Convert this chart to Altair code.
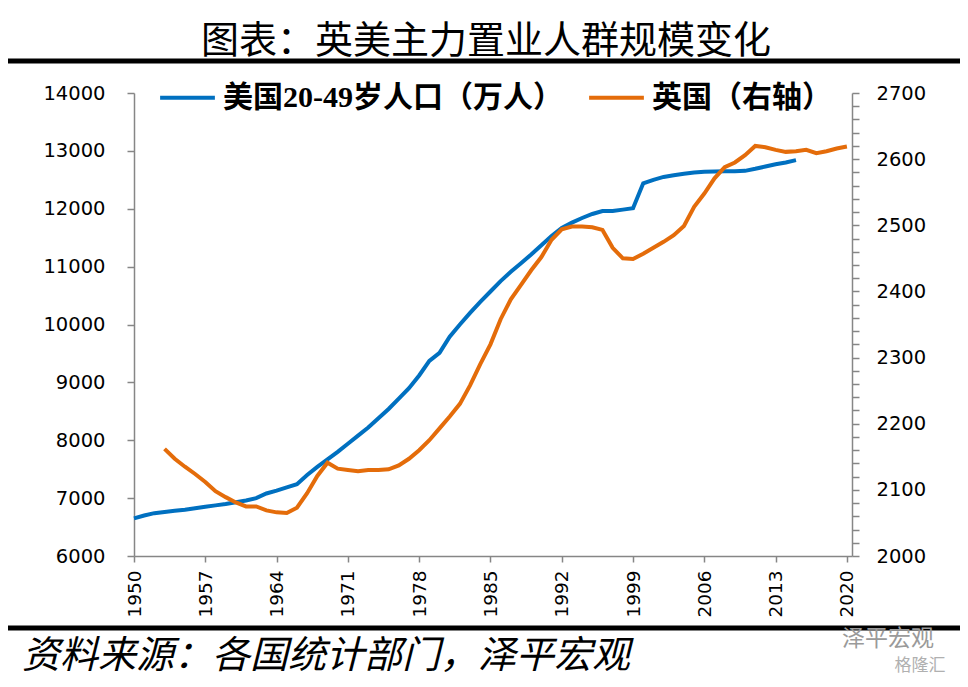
import altair as alt
import pandas as pd

# ---------------- data ----------------
us_years = list(range(1950, 2016))
us_pop = [6650, 6700, 6740, 6760, 6780, 6800, 6825, 6850, 6875, 6900,
          6930, 6960, 7000, 7080, 7130, 7185, 7240, 7400, 7540, 7670,
          7800, 7940, 8080, 8220, 8380, 8540, 8720, 8900, 9120, 9370,
          9510, 9790, 10000, 10200, 10390, 10570, 10750, 10910, 11060, 11210,
          11370, 11530, 11670, 11760, 11840, 11910, 11960, 11960, 11985, 12010,
          12440, 12500, 12550, 12580, 12605, 12625, 12640, 12645, 12650, 12650,
          12655, 12690, 12730, 12770, 12800, 12840]

uk_years = list(range(1953, 2021))
uk_pop = [2162, 2147, 2135, 2124, 2112, 2098, 2089, 2081, 2075, 2075,
          2069, 2066, 2065, 2073, 2095, 2121, 2141, 2132, 2130, 2128,
          2130, 2130, 2131, 2137, 2147, 2160, 2175, 2193, 2211, 2230,
          2258, 2290, 2320, 2358, 2388, 2410, 2432, 2452, 2478, 2494,
          2498, 2498, 2497, 2493, 2466, 2450, 2449, 2457, 2466, 2475,
          2485, 2499, 2528, 2548, 2571, 2588, 2595, 2606, 2620, 2618,
          2614, 2611, 2612, 2614, 2609, 2612, 2616, 2619]

series_names = ["美国20-49岁人口（万人）", "英国（右轴）"]
series_colors = ["#0070C0", "#E46C0A"]
x_ticks = [1950, 1957, 1964, 1971, 1978, 1985, 1992, 1999, 2006, 2013, 2020]
left_ticks = list(range(6000, 14001, 1000))
right_ticks = list(range(2000, 2701, 20))

title_text = "图表：英美主力置业人群规模变化"
source_text = "资料来源：各国统计部门，泽平宏观"
mark_text_1 = "泽平宏观"
mark_text_2 = "格隆汇"

us_df = pd.DataFrame({"year": us_years, "value": us_pop, "series": series_names[0]})
uk_df = pd.DataFrame({"year": uk_years, "value": uk_pop, "series": series_names[1]})

# ---------------- encodings ----------------
W, H = 718, 463
CJK = "Noto Sans CJK SC"
AX_FONT = "DejaVu Sans"

x_enc = alt.X("year:Q",
              scale=alt.Scale(domain=[1950, 2020.5], nice=False, zero=False),
              axis=alt.Axis(values=x_ticks, format="d", labelAngle=270, tickSize=6,
                            labelPadding=8, title=None, labelFlush=False,
                            labelOverlap=False, labelFontSize=18.5))

legend = alt.Legend(orient="none", legendX=24, legendY=-25, direction="horizontal",
                    title=None, symbolType="stroke", symbolSize=3000,
                    symbolStrokeWidth=4, labelFont="Liberation Serif, 'Noto Sans CJK SC'",
                    labelFontSize=30, labelFontWeight="bold", labelColor="black",
                    labelOffset=6, columnPadding=18, labelLimit=0, padding=0)

color_enc = alt.Color("series:N",
                      scale=alt.Scale(domain=series_names, range=series_colors),
                      legend=legend)

us_line = alt.Chart(us_df).mark_line(strokeWidth=4).encode(
    x=x_enc,
    y=alt.Y("value:Q",
            scale=alt.Scale(domain=[6000, 14000], nice=False, zero=False),
            axis=alt.Axis(orient="left", values=left_ticks, format="d", tickSize=7,
                          labelPadding=22, title=None, labelFlush=False,
                          labelOverlap=False, labelFontSize=19.5)),
    color=color_enc,
)

uk_line = alt.Chart(uk_df).mark_line(strokeWidth=4).encode(
    x=x_enc,
    y=alt.Y("value:Q",
            scale=alt.Scale(domain=[2000, 2700], nice=False, zero=False),
            axis=alt.Axis(orient="right", values=right_ticks, format="d", tickSize=7,
                          labelPadding=17, title=None, labelFlush=False,
                          labelOverlap=False, labelFontSize=19.5,
                          labelExpr="datum.value % 100 == 0 ? datum.label : ''")),
    color=color_enc,
)


def text_layer(txt, x, y, size, **kw):
    return alt.Chart(pd.DataFrame({"t": [txt]})).mark_text(fontSize=size, **kw).encode(
        text="t:N", x=alt.value(x), y=alt.value(y))


def hrule(y):
    return alt.Chart(pd.DataFrame({"k": [0]})).mark_rule(color="black", strokeWidth=5).encode(
        x=alt.value(-126), x2=alt.value(826), y=alt.value(y))


title = text_layer(title_text, 352, -40, 38, font=CJK, color="black",
                   align="center", baseline="alphabetic")
source = text_layer(source_text, -112, 575, 38, font=CJK, color="black",
                    align="left", baseline="alphabetic", fontStyle="italic")
wm1 = text_layer(mark_text_1, 754, 546, 23, font=CJK, color="#9a9a9a",
                 align="center", baseline="middle")
wm2 = text_layer(mark_text_2, 786, 573, 17, font=CJK, color="#b0b0b0",
                 align="center", baseline="middle")

chart = alt.layer(
    us_line, uk_line, hrule(-32), hrule(535), title, source, wm1, wm2
).resolve_scale(
    y="independent"
).properties(
    width=W, height=H,
    autosize=alt.AutoSizeParams(type="none"),
    padding={"left": 126, "top": 85, "right": 108, "bottom": 123},
).configure_view(
    strokeWidth=0
).configure_axis(
    domainColor="#868686", tickColor="#868686", domainWidth=1.5, tickWidth=1.5,
    labelColor="black", labelFont=AX_FONT, grid=False,
)

chart.save("out.html", embed_options={"renderer": "svg", "actions": False})
